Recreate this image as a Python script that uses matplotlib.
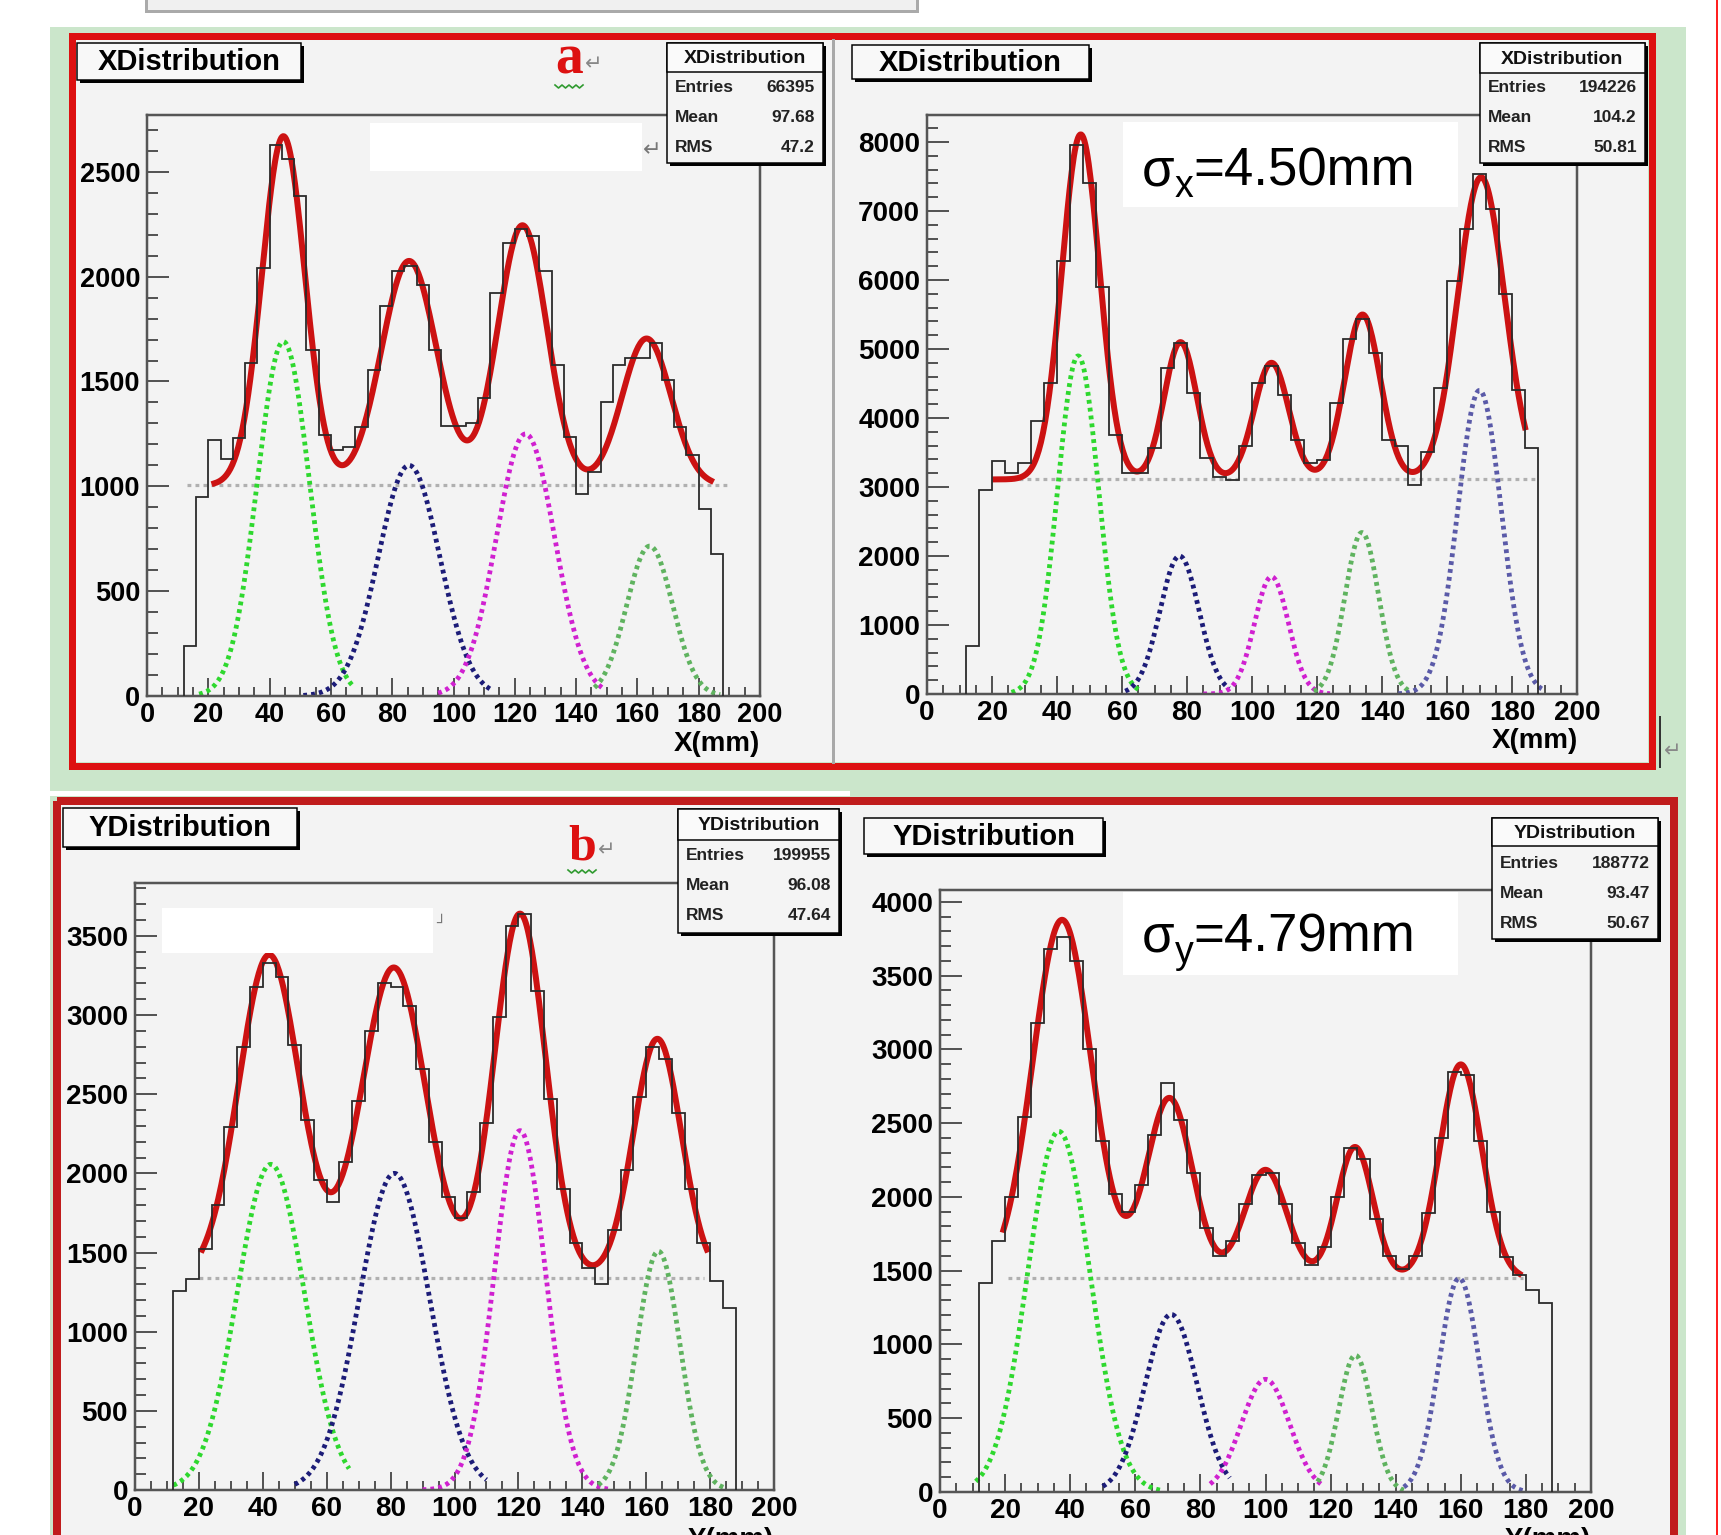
import numpy as np
import matplotlib.pyplot as plt
from matplotlib.patches import Rectangle

plt.rcParams['font.family'] = ['Liberation Sans', 'DejaVu Sans']
plt.rcParams['font.weight'] = 'bold'

W, H = 1721, 1535
DPI = 100

# histogram binning (mm)
bin_edges = np.arange(12, 192, 4)

# ---------------- data ----------------
# a) X distributions
tl_counts = [239, 950, 1222, 1128, 1230, 1590, 2040, 2630, 2560, 2383, 1650, 1245,
             1175, 1187, 1282, 1554, 1862, 2028, 2050, 1960, 1650, 1290, 1290, 1300,
             1420, 1921, 2160, 2229, 2194, 2028, 1578, 1234, 962, 1068, 1400, 1578,
             1613, 1613, 1684, 1507, 1282, 1151, 891, 678]
tl_bkg = 1005
tl_peaks = [(44.5, 1665, 7.0), (85.5, 1070, 9.0), (122.5, 1240, 8.0), (163.0, 700, 8.0)]
tl_fit_range = (22, 184)
tl_base_range = (13, 190)
tl_parts = [(44.5, 1690, 8.5, 17, 67), (85.5, 1100, 10.0, 51, 112),
            (123.5, 1250, 9.5, 95, 149), (164.0, 715, 7.5, 146, 187)]
tl_stats = ('XDistribution', '66395', '97.68', '47.2')

tr_counts = [700, 2956, 3380, 3200, 3350, 3950, 4506, 6270, 7950, 7400, 5900, 3750,
             3210, 3200, 3570, 4720, 5080, 4360, 3420, 3140, 3100, 3600, 4500, 4760,
             4330, 3680, 3350, 3390, 4220, 5150, 5440, 4940, 3680, 3600, 3030, 3500,
             4430, 5980, 6740, 7530, 7030, 5800, 4400, 3570]
tr_bkg = 3110
tr_peaks = [(47.3, 5000, 5.8), (78.0, 1990, 5.0), (106.0, 1690, 5.3),
            (134.0, 2390, 5.5), (170.5, 4380, 7.2)]
tr_fit_range = (21, 184)
tr_base_range = (21, 188)
tr_parts = [(46.5, 4900, 6.3, 26, 65), (77.7, 2000, 6.0, 61, 93), (106.0, 1700, 5.2, 85, 124),
            (133.8, 2340, 5.2, 119, 148.5), (170.0, 4400, 6.7, 145, 190)]
tr_stats = ('XDistribution', '194226', '104.2', '50.81')

# b) Y distributions
bl_counts = [1260, 1330, 1520, 1800, 2290, 2800, 3180, 3330, 3240, 2810, 2340, 1960,
             1820, 2070, 2460, 2900, 3200, 3180, 3060, 2660, 2200, 1850, 1720, 1880,
             2320, 2990, 3560, 3640, 3150, 2470, 1900, 1560, 1400, 1300, 1640, 2020,
             2480, 2800, 2720, 2380, 1900, 1560, 1320, 1150]
bl_bkg = 1340
bl_peaks = [(42.0, 2040, 9.5), (81.0, 1960, 10.0), (120.5, 2300, 8.0), (163.5, 1510, 7.5)]
bl_fit_range = (21, 179)
bl_base_range = (20, 178)
bl_parts = [(42.5, 2057, 10.5, 12, 67), (81.2, 2000, 11.0, 50, 110),
            (120.5, 2270, 8.0, 90, 148), (163.8, 1508, 6.8, 145, 185)]
bl_stats = ('YDistribution', '199955', '96.08', '47.64')

br_counts = [1420, 1700, 2000, 2540, 3180, 3680, 3760, 3600, 3000, 2380, 2020, 1900,
             2080, 2420, 2770, 2520, 2160, 1790, 1600, 1700, 1950, 2150, 2160, 1950,
             1690, 1540, 1660, 2000, 2330, 2260, 1850, 1600, 1510, 1600, 1890, 2400,
             2850, 2830, 2380, 1900, 1590, 1470, 1370, 1280]
br_bkg = 1449
br_peaks = [(37.5, 2430, 9.0), (70.5, 1220, 7.0), (100.0, 735, 6.5),
            (127.5, 890, 5.5), (160.0, 1450, 6.5)]
br_fit_range = (19.5, 178)
br_base_range = (21, 179)
br_parts = [(36.5, 2445, 9.6, 11, 68), (71.0, 1204, 8.0, 50, 89), (100.0, 764, 7.4, 83, 117),
            (127.6, 927, 5.1, 116, 142.5), (159.5, 1449, 6.2, 142.5, 179)]
br_stats = ('YDistribution', '188772', '93.47', '50.67')

# ---------------- styles / layout ----------------
four_cols = ['#2ed82e', '#1c1c78', '#d020d0', '#5fb35f']
five_cols = ['#2ed82e', '#1c1c78', '#d020d0', '#5fb35f', '#5a5aa8']
PX = 0.72  # points per pixel at 100 dpi

panels = [
    dict(counts=tl_counts, bkg=tl_bkg, peaks=tl_peaks, fit=tl_fit_range, base=tl_base_range,
         parts=tl_parts, cols=four_cols, stats=tl_stats, box=(147, 115, 760, 696), ymax=2771,
         ymaj=500, ymin=100, fs=19.5, title=(77, 43, 301, 80),
         sbox=(667, 43, 823, 163, 72, (87, 117, 147)), xlab='X(mm)', xlab_pos=(760, 744, 'center')),
    dict(counts=tr_counts, bkg=tr_bkg, peaks=tr_peaks, fit=tr_fit_range, base=tr_base_range,
         parts=tr_parts, cols=five_cols, stats=tr_stats, box=(927, 115, 1577, 694), ymax=8391,
         ymaj=1000, ymin=200, fs=20, title=(852, 45, 1089, 79),
         sbox=(1480, 43, 1645, 163, 73, (88, 117, 147)), xlab='X(mm)', xlab_pos=(1578, 741, 'center')),
    dict(counts=bl_counts, bkg=bl_bkg, peaks=bl_peaks, fit=bl_fit_range, base=bl_base_range,
         parts=bl_parts, cols=four_cols, stats=bl_stats, box=(135, 883, 774, 1490), ymax=3834,
         ymaj=500, ymin=100, fs=20, title=(63, 808, 297, 847),
         sbox=(678, 809, 839, 933, 840, (855, 885, 916)), xlab='Y(mm)', xlab_pos=(774, 1527, 'top')),
    dict(counts=br_counts, bkg=br_bkg, peaks=br_peaks, fit=br_fit_range, base=br_base_range,
         parts=br_parts, cols=five_cols, stats=br_stats, box=(940, 890, 1591, 1492), ymax=4081,
         ymaj=500, ymin=100, fs=20, title=(864, 818, 1103, 854),
         sbox=(1492, 818, 1658, 939, 846, (863, 893, 923)), xlab='Y(mm)', xlab_pos=(1591, 1527, 'top')),
]

fig = plt.figure(figsize=(W / DPI, H / DPI), dpi=DPI)
fig.patch.set_facecolor('white')


def overlay(z):
    a = fig.add_axes([0, 0, 1, 1], zorder=z)
    a.set_xlim(0, W)
    a.set_ylim(H, 0)
    a.axis('off')
    return a


bg = overlay(0)
fg = overlay(10)


def rect(a, x0, y0, x1, y1, **kw):
    a.add_patch(Rectangle((x0, y0), x1 - x0, y1 - y0, **kw))


# page background pieces
rect(bg, 146, -5, 917, 11, facecolor='#f0f0f0', edgecolor='#aaaaaa', lw=3 * PX)
rect(bg, 50, 27, 1686, H + 5, facecolor='#cbe6cb', edgecolor='none')
rect(bg, 50, 791, 850, 796, facecolor='white', edgecolor='none')
rect(bg, 75, 40, 1648, 762, facecolor='#f3f3f3', edgecolor='none')
rect(bg, 61, 805, 1670, H + 5, facecolor='#f3f3f3', edgecolor='none')
rect(bg, 71.5, 36, 1652, 766, fill=False, edgecolor='#dd1111', lw=7 * PX)
rect(bg, 57, 801, 1674, H + 30, fill=False, edgecolor='#c01c1c', lw=8 * PX)
bg.plot([833, 833], [40, 762], color='#a8a8a8', lw=3 * PX)
bg.plot([1717, 1717], [0, H], color='#ff2020', lw=2 * PX)
bg.plot([1660, 1660], [717, 767], color='#333333', lw=2 * PX)
bg.text(1664, 757, '\u21b5', fontsize=15, color='#888888', family='DejaVu Sans',
        fontweight='normal', va='baseline')


def gauss_sum(x, bkg, peaks):
    y = np.full_like(x, float(bkg))
    for m, a, s in peaks:
        y += a * np.exp(-0.5 * ((x - m) / s) ** 2)
    return y


for p in panels:
    x0, y0, x1, y1 = p['box']
    ax = fig.add_axes([x0 / W, 1 - y1 / H, (x1 - x0) / W, (y1 - y0) / H], zorder=5)
    ax.set_facecolor('none')
    ax.set_xlim(0, 200)
    ax.set_ylim(0, p['ymax'])

    # flat background of the fit
    bx = np.array(p['base'], dtype=float)
    ax.plot(bx, [p['bkg'], p['bkg']], color='#b0b0b0', lw=3.2 * PX,
            linestyle=(0, (1.2, 1.3)), zorder=1.5)
    # gaussian components
    for (m, a, s, lo, hi), c in zip(p['parts'], p['cols']):
        xx = np.linspace(lo, hi, 200)
        ax.plot(xx, a * np.exp(-0.5 * ((xx - m) / s) ** 2), color=c, lw=4.8 * PX,
                linestyle=(0, (0.8, 0.85)), zorder=2.5)
    # total fit
    xf = np.linspace(p['fit'][0], p['fit'][1], 500)
    ax.plot(xf, gauss_sum(xf, p['bkg'], p['peaks']), color='#cc1212', lw=6 * PX, zorder=2)
    # histogram
    ax.stairs(p['counts'], bin_edges, baseline=0, color='#2a2a2a', lw=1.8 * PX, zorder=3)

    for sp in ax.spines.values():
        sp.set_color('#555555')
        sp.set_linewidth(2.5 * PX)
    ax.set_xticks(np.arange(0, 201, 20))
    ax.set_xticks(np.arange(0, 201, 5), minor=True)
    ax.set_yticks(np.arange(0, p['ymax'], p['ymaj']))
    ax.set_yticks(np.arange(0, p['ymax'], p['ymin']), minor=True)
    ax.tick_params(which='both', direction='in', top=False, right=False,
                   color='#555555', labelcolor='black', labelsize=p['fs'])
    ax.tick_params(axis='y', which='major', length=22 * PX, width=2 * PX, pad=5)
    ax.tick_params(axis='y', which='minor', length=11 * PX, width=2 * PX)
    ax.tick_params(axis='x', which='major', length=18 * PX, width=2 * PX, pad=4)
    ax.tick_params(axis='x', which='minor', length=9 * PX, width=2 * PX)
    for lbl in ax.get_xticklabels() + ax.get_yticklabels():
        lbl.set_fontweight('bold')

    # axis title
    lx, ly, va = p['xlab_pos']
    fg.text(lx, ly, p['xlab'], ha='right', va=va, fontsize=20, fontweight='bold')

    # title box with shadow
    tx0, ty0, tx1, ty1 = p['title']
    rect(fg, tx0 + 3, ty0 + 3, tx1 + 3, ty1 + 3, facecolor='black', edgecolor='none')
    rect(fg, tx0, ty0, tx1, ty1, facecolor='#f8f8f8', edgecolor='black', lw=1.5 * PX)
    fg.text((tx0 + tx1) / 2, (ty0 + ty1) / 2 + 1, p['stats'][0], ha='center', va='center',
            fontsize=21, fontweight='bold')

    # stats box with shadow
    sx0, sy0, sx1, sy1, ysep, rows = p['sbox']
    rect(fg, sx0 + 3, sy0 + 3, sx1 + 3, sy1 + 3, facecolor='black', edgecolor='none')
    rect(fg, sx0, sy0, sx1, sy1, facecolor='#f4f4f4', edgecolor='black', lw=1.5 * PX)
    rect(fg, sx0, sy0, sx1, ysep, facecolor='#fafafa', edgecolor='black', lw=1.5 * PX)
    fg.text((sx0 + sx1) / 2, (sy0 + ysep) / 2 + 1, p['stats'][0], ha='center', va='center',
            fontsize=14, fontweight='bold', color='#111111')
    for name, val, yy in zip(['Entries', 'Mean', 'RMS'], p['stats'][1:], rows):
        fg.text(sx0 + 8, yy, name, ha='left', va='center', fontsize=12.5,
                fontweight='bold', color='#222222')
        fg.text(sx1 - 8, yy, val, ha='right', va='center', fontsize=12.5,
                fontweight='bold', color='#222222')

# pasted white blocks
rect(fg, 370, 123, 642, 171, facecolor='white', edgecolor='none')
rect(fg, 162, 908, 433, 953, facecolor='white', edgecolor='none')
rect(fg, 1123, 122, 1458, 207, facecolor='white', edgecolor='none')
rect(fg, 1123, 892, 1458, 975, facecolor='white', edgecolor='none')
fg.text(643, 156, '\u21b5', fontsize=16, color='#777777', family='DejaVu Sans',
        fontweight='normal', va='baseline')
fg.text(436, 928, '\u2518', fontsize=11, color='#777777', family='DejaVu Sans',
        fontweight='normal', va='baseline')

# panel tags a / b
for tag, tx, tbase, wy, fs in [('a', 555, 73, 85, 40), ('b', 568, 859, 870, 36)]:
    fg.text(tx, tbase, tag, family='Liberation Serif', fontweight='bold', fontsize=fs,
            color='#dd1111', ha='left', va='baseline')
    fg.text(tx + 30, tbase - 3, '\u21b5', fontsize=15, color='#888888', family='DejaVu Sans',
            fontweight='normal', va='baseline')
    zx = np.linspace(tx, tx + 28, 9)
    zy = np.where(np.arange(9) % 2 == 0, wy, wy + 3)
    fg.plot(zx, zy, color='#2f9a2f', lw=1.2)

# sigma labels
renderer = fig.canvas.get_renderer()


def sigma_label(x, base, sub, rest):
    t1 = fg.text(x, base, '\u03c3', fontsize=38, fontweight='normal', ha='left', va='baseline')
    w1 = t1.get_window_extent(renderer).width
    t2 = fg.text(x + w1, base + 12, sub, fontsize=27, fontweight='normal', ha='left',
                 va='baseline')
    w2 = t2.get_window_extent(renderer).width
    fg.text(x + w1 + w2, base, rest, fontsize=38, fontweight='normal', ha='left', va='baseline')


sigma_label(1142, 185, 'x', '=4.50mm')
sigma_label(1142, 951, 'y', '=4.79mm')

fig.savefig('out.png', dpi=DPI)
